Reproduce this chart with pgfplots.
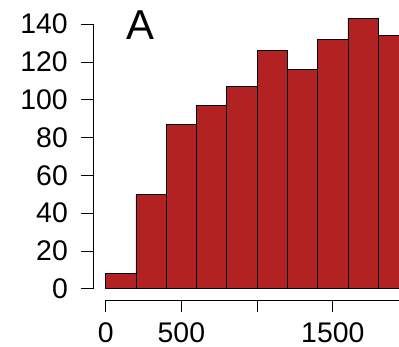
\documentclass[border=0pt]{standalone}
\usepackage{pgfplots}
\pgfplotsset{compat=1.18}
\usepackage{fontspec}
\setmainfont{Liberation Sans}
\definecolor{firebrick}{RGB}{178,34,34}
\begin{document}
\begin{tikzpicture}
\begin{axis}[
  at={(93bp,47bp)}, anchor=south west,
  scale only axis, width=306bp, height=300bp,
  xmin=-83.9, xmax=1937.3, ymin=-5.98, ymax=152.8,
  clip=false,
  axis line style={draw=none},
  tick pos=left, tick align=outside,
  major tick length=12bp,
  tick style={black, line width=0.8bp},
  xtick={0,500,1000,1500,2000},
  xticklabels={0,500,,1500,2000},
  ytick={0,20,40,60,80,100,120,140},
  /pgf/number format/assume math mode=true,
  tick label style={font=\fontsize{28.5}{30}\selectfont},
  yticklabel style={inner sep=0pt, xshift=-13bp},
  xticklabel style={inner sep=0pt, yshift=-10bp},
]
\addplot[ybar interval, fill=firebrick, draw=black, line width=0.8bp]
  coordinates {(0,8) (200,50) (400,87) (600,97) (800,107) (1000,126) (1200,116) (1400,132) (1600,143) (1800,134) (2000,134)};
\draw[line width=0.8bp] (axis cs:-83.9,0) -- (axis cs:-83.9,140);
\draw[line width=0.8bp] (axis cs:0,-5.98) -- (axis cs:2000,-5.98);
\node[font=\fontsize{42}{44}\selectfont, inner sep=0pt] at (axis cs:230,139.3) {A};
\end{axis}
\pgfresetboundingbox
\path[use as bounding box] (0,0) rectangle (399bp,347bp);
\end{tikzpicture}
\end{document}
